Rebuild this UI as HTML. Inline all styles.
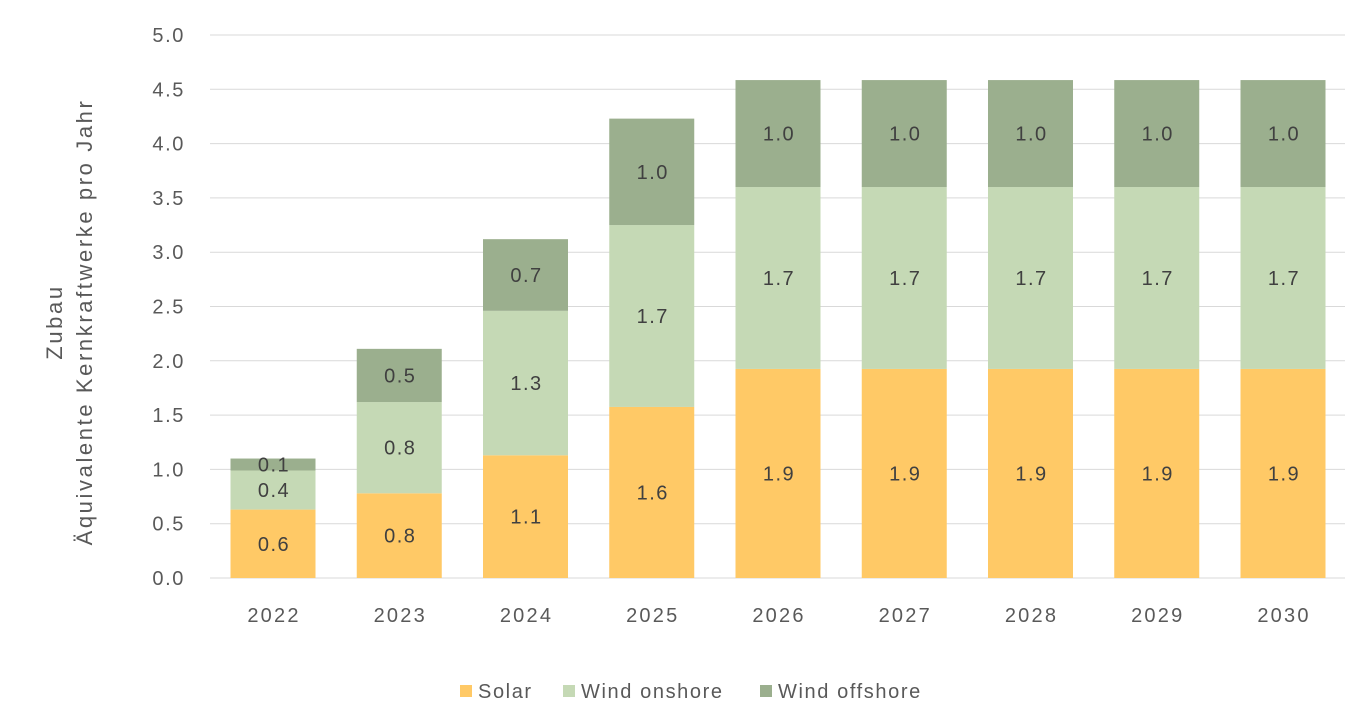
<!DOCTYPE html>
<html><head><meta charset="utf-8"><style>
body{margin:0;background:#fff;}
svg{display:block;font-family:"Liberation Sans",sans-serif;}
</style></head><body>
<svg id="c" width="1371" height="728"></svg>
<script>
const categories=["2022","2023","2024","2025","2026","2027","2028","2029","2030"];
const solar=[0.63,0.78,1.13,1.575,1.925,1.925,1.925,1.925,1.925];
const onshore=[0.36,0.84,1.33,1.675,1.675,1.675,1.675,1.675,1.675];
const offshore=[0.11,0.49,0.66,0.98,0.985,0.985,0.985,0.985,0.985];
const yTicks=[0,0.5,1,1.5,2,2.5,3,3.5,4,4.5,5];
const seriesNames=["Solar","Wind onshore","Wind offshore"];
const colors=["#FFC966","#C5D9B5","#9BAF8E"];
const NS="http://www.w3.org/2000/svg";
const svg=document.getElementById('c');
function el(t,a,txt){const e=document.createElementNS(NS,t);for(const k in a)e.setAttribute(k,a[k]);if(txt!==undefined)e.textContent=txt;svg.appendChild(e);return e;}
const y=v=>578-v*108.6;
const x=i=>273+i*126.25;
const bw=85;
yTicks.forEach(t=>{
 const g=el('line',{x1:210,x2:1345,y1:y(t),y2:y(t),stroke:'#d9d9d9','stroke-width':1});
 
 
 const l=el('text',{x:185,y:y(t)+7,'text-anchor':'end','font-size':20,'letter-spacing':1.6,fill:'#595959'},t.toFixed(1));
 
 
});
const series=[solar,onshore,offshore];
categories.forEach((c,i)=>{
 let base=0;
 series.forEach((s,k)=>{
  const v=s[i];
  const r=el('rect',{x:x(i)-bw/2,y:y(base+v),width:bw,height:y(base)-y(base+v),fill:colors[k]});
  
  
  const t=el('text',{x:x(i)+1,y:(y(base)+y(base+v))/2+7,'text-anchor':'middle','font-size':20,'letter-spacing':1.5,fill:'#404040'},v.toFixed(1));
  
  
  base+=v;
 });
 const xl=el('text',{x:x(i)+1,y:622,'text-anchor':'middle','font-size':20,'letter-spacing':2.2,fill:'#595959'},c);
 
 
});
const yt=el('text',{'font-size':22,'letter-spacing':2.6,fill:'#595959','text-anchor':'middle'});


yt.innerHTML='<tspan x="-322" y="62">Zubau</tspan><tspan x="-322" y="92">Äquivalente Kernkraftwerke pro Jahr</tspan>';
yt.setAttribute('transform','rotate(-90)');
const lx=[460,563,760];
seriesNames.forEach((n,k)=>{
 const r=el('rect',{x:lx[k],y:685,width:12,height:12,fill:colors[k]});
 
 
 const t=el('text',{x:lx[k]+18,y:698,'font-size':20,'letter-spacing':1.6,fill:'#595959'},n);
 
 
});
</script>
</body></html>
